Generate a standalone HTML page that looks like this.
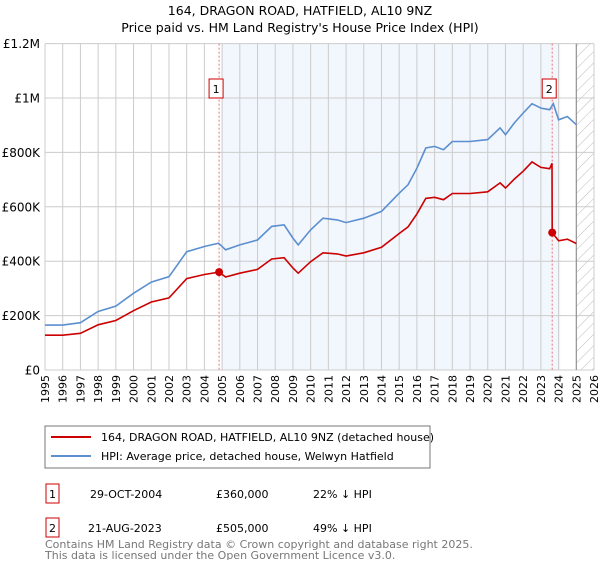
<!DOCTYPE html>
<html><head><meta charset="utf-8"><style>
body{margin:0;background:#fff;font-family:"Liberation Sans","DejaVu Sans",sans-serif;}
svg text{font-family:"DejaVu Sans","Liberation Sans",sans-serif;}
</style></head><body>
<svg id="c" width="600" height="560" xmlns="http://www.w3.org/2000/svg">
<text x="300" y="15" text-anchor="middle" font-size="12.5">164, DRAGON ROAD, HATFIELD, AL10 9NZ</text>
<text x="300" y="32" text-anchor="middle" font-size="12.5">Price paid vs. HM Land Registry's House Price Index (HPI)</text>
<g id="plot"></g>
<rect x="45" y="426" width="385" height="42" fill="#fff" stroke="#777"/>
<line x1="51" y1="437" x2="91" y2="437" stroke="#cc0000" stroke-width="2"/>
<text x="101" y="441" font-size="11">164, DRAGON ROAD, HATFIELD, AL10 9NZ (detached house)</text>
<line x1="51" y1="456" x2="91" y2="456" stroke="#5b8fd0" stroke-width="2"/>
<text x="101" y="460" font-size="11">HPI: Average price, detached house, Welwyn Hatfield</text>
<g font-size="11">
<rect x="46" y="484" width="13" height="19" fill="none" stroke="#cc0000"/>
<text x="52.5" y="498" text-anchor="middle">1</text>
<text x="90" y="498">29-OCT-2004</text><text x="216" y="498">£360,000</text><text x="313" y="498">22% ↓ HPI</text>
</g>
<g font-size="11">
<rect x="46" y="518" width="13" height="19" fill="none" stroke="#cc0000"/>
<text x="52.5" y="532" text-anchor="middle">2</text>
<text x="88" y="532">21-AUG-2023</text><text x="216" y="532">£505,000</text><text x="313" y="532">49% ↓ HPI</text>
</g>
<text x="45" y="548" font-size="11" fill="#777">Contains HM Land Registry data © Crown copyright and database right 2025.</text>
<text x="45" y="559" font-size="11" fill="#777">This data is licensed under the Open Government Licence v3.0.</text>
</svg>
<script>
const hpiYears=[1995,1996,1997,1998,1999,2000,2001,2002,2003,2004,2004.8,2005.2,2006,2007,2007.8,2008.5,2009,2009.3,2010,2010.7,2011.5,2012,2013,2014,2015,2015.5,2016,2016.5,2017,2017.5,2018,2019,2020,2020.7,2021,2021.5,2022,2022.5,2023,2023.5,2023.7,2024,2024.5,2025];
const hpiValues=[165,165,174,215,235,282,323,343,435,454,466,442,460,478,528,534,485,460,515,558,552,542,558,583,650,681,742,816,822,810,840,840,847,890,865,908,945,979,963,957,979,920,932,902];
const propYears=[1995,1996,1997,1998,1999,2000,2001,2002,2003,2004,2004.83,2005.2,2006,2007,2007.8,2008.5,2009,2009.3,2010,2010.7,2011.5,2012,2013,2014,2015,2015.5,2016,2016.5,2017,2017.5,2018,2019,2020,2020.7,2021,2021.5,2022,2022.5,2023,2023.5,2023.63,2023.64,2024,2024.5,2025];
const propValues=[128,128,135,166,182,218,250,265,336,351,360,342,356,370,408,413,375,356,398,431,427,419,431,451,502,526,574,631,635,626,649,649,655,688,669,702,731,765,745,740,760,505,475,481,465];
const saleYears=[2004.83,2023.64];
const saleValues=[360,505];
const yTicks=[0,200,400,600,800,1000,1200];
const yTickLabels=["£0","£200K","£400K","£600K","£800K","£1M","£1.2M"];
const xTicks=[];for(let y=1995;y<=2026;y++)xTicks.push(y);

const L=45,R=594,T=43.6,B=370;
const X=y=>L+(y-1995)*(R-L)/31;
const Y=v=>B-v*(B-T)/1200;
const NS="http://www.w3.org/2000/svg";
const g=document.getElementById('plot');
function mk(t,a){const e=document.createElementNS(NS,t);for(const k in a)e.setAttribute(k,a[k]);g.appendChild(e);return e;}
let e;
e=mk('rect',{x:X(2005),y:T,width:X(2024.1)-X(2005),height:B-T,fill:'#f2f6fd'});


const defs=mk('defs',{});
defs.innerHTML='<pattern id="h" width="8" height="8" patternUnits="userSpaceOnUse" patternTransform="rotate(45)"><line x1="0" y1="0" x2="0" y2="8" stroke="#bbb" stroke-width="1"/></pattern>';
e=mk('rect',{x:X(2025),y:T,width:R-X(2025),height:B-T,fill:'url(#h)'});


xTicks.forEach(t=>{
 e=mk('line',{x1:X(t),y1:T,x2:X(t),y2:B,stroke:'#ccc','stroke-width':1});
 
 
 e=mk('text',{x:0,y:0,'font-size':11,'text-anchor':'end',transform:`translate(${X(t)+4},375) rotate(-90)`});
 e.textContent=t;
 
 
});
yTicks.forEach((t,i)=>{
 e=mk('line',{x1:L,y1:Y(t),x2:R,y2:Y(t),stroke:'#ccc','stroke-width':1});
 
 
 e=mk('text',{x:40,y:Y(t)+4.5,'font-size':12,'text-anchor':'end'});
 e.textContent=yTickLabels[i];
 
 
});
e=mk('line',{x1:X(2025),y1:T,x2:X(2025),y2:B,stroke:'#888','stroke-width':1});


saleYears.forEach((s,i)=>{
 e=mk('line',{x1:X(s),y1:T,x2:X(s),y2:B,stroke:'#f07070','stroke-width':1,'stroke-dasharray':'2,2'});
 
 
 e=mk('rect',{x:X(s)-10,y:79,width:14,height:19,fill:'#fff',stroke:'#cc0000'});
 
 
 e=mk('text',{x:X(s)-3,y:93,'font-size':11,'text-anchor':'middle'});
 e.textContent=i+1;
 
 
});
e=mk('path',{d:hpiYears.map((y,i)=>(i?'L':'M')+X(y).toFixed(1)+','+Y(hpiValues[i]).toFixed(1)).join(''),fill:'none',stroke:'#5b8fd0','stroke-width':1.6});


e=mk('path',{d:propYears.map((y,i)=>(i?'L':'M')+X(y).toFixed(1)+','+Y(propValues[i]).toFixed(1)).join(''),fill:'none',stroke:'#cc0000','stroke-width':1.6});


saleYears.forEach((s,i)=>{
 e=mk('circle',{cx:X(s),cy:Y(saleValues[i]),r:4,fill:'#cc0000'});
 
 
});
</script>
</body></html>
